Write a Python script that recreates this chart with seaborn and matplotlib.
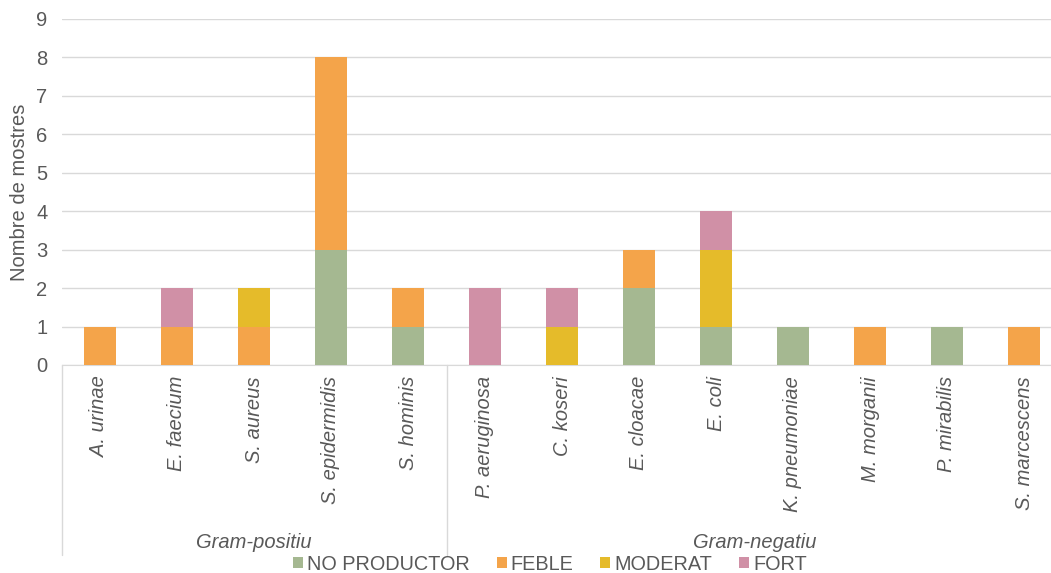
import numpy as np
import pandas as pd
import matplotlib
matplotlib.use('Agg')
import matplotlib.pyplot as plt
import seaborn as sns
from matplotlib.patches import Patch
from matplotlib.lines import Line2D

# data
species = ["A. urinae", "E. faecium", "S. aureus", "S. epidermidis", "S. hominis",
           "P. aeruginosa", "C. koseri", "E. cloacae", "E. coli", "K. pneumoniae",
           "M. morganii", "P. mirabilis", "S. marcescens"]
groups = ["Gram-positiu", "Gram-negatiu"]
group_sizes = [5, 8]

series = ["NO PRODUCTOR", "FEBLE", "MODERAT", "FORT"]
no_productor = [0, 0, 0, 3, 1, 0, 0, 2, 1, 1, 0, 1, 0]
feble = [1, 1, 1, 5, 1, 0, 0, 1, 0, 0, 1, 0, 1]
moderat = [0, 0, 1, 0, 0, 0, 1, 0, 2, 0, 0, 0, 0]
fort = [0, 1, 0, 0, 0, 2, 1, 0, 1, 0, 0, 0, 0]
colors = ["#A5B891", "#F4A44A", "#E5BB2A", "#D090A6"]

sns.set_style("white")
plt.rcParams['font.family'] = ['Liberation Sans', 'DejaVu Sans']
txt = "#595959"
grid_c = "#D9D9D9"

df = pd.DataFrame({"species": species, "NO PRODUCTOR": no_productor, "FEBLE": feble,
                   "MODERAT": moderat, "FORT": fort})
cum = df[series].cumsum(axis=1)

W, H = 1051, 573
ax_l, ax_r, ax_b, ax_t = 61.5, 1062.5, 365, 19

fig = plt.figure(figsize=(W / 100, H / 100), dpi=100)
ax = fig.add_axes([ax_l / W, 1 - ax_b / H, (ax_r - ax_l) / W, (ax_b - ax_t) / H])

# stacked bars: draw cumulative totals from top series down
for s, c in reversed(list(zip(series, colors))):
    sns.barplot(x=df["species"], y=cum[s], order=species, color=c, width=0.415,
                linewidth=0, saturation=1, ax=ax, zorder=3)

ax.set_xlim(-0.5, len(species) - 0.5)
ax.set_ylim(0, 9)
ax.set_yticks(range(10))
ax.yaxis.grid(True, color=grid_c, linewidth=1, zorder=0)
ax.set_axisbelow(True)
for sp in ["left", "right", "top"]:
    ax.spines[sp].set_visible(False)
ax.spines["bottom"].set_color(grid_c)
ax.tick_params(axis="y", length=0, labelsize=14.5, labelcolor=txt, pad=10)
ax.tick_params(axis="x", length=0, labelsize=14.5, labelcolor=txt, pad=8)
ax.set_xticks(range(len(species)))
ax.set_xticklabels(species, rotation=90, style="italic", ha="center", va="top")
ax.set_xlabel("")
ax.set_ylabel("Nombre de mostres", fontsize=14.5, color=txt, labelpad=5)

# group separators and group labels
y_top = 1 - ax_b / H
y_bot = 1 - 555 / H
x0 = ax_l / W
slot = (ax_r - ax_l) / W / len(species)
start = 0
edges = [x0]
for g, n in zip(groups, group_sizes):
    xc = x0 + (start + n / 2) * slot
    fig.text(xc, 1 - 543 / H, g, ha="center", va="center", style="italic",
             fontsize=14.5, color=txt)
    start += n
    edges.append(x0 + start * slot)
for xe in edges[:-1]:
    fig.add_artist(Line2D([xe, xe], [y_bot, y_top], color=grid_c, linewidth=1))

handles = [Patch(facecolor=c, edgecolor="none", label=s) for s, c in zip(series, colors)]
leg = fig.legend(handles=handles, loc="center", bbox_to_anchor=(550 / W, 1 - 564 / H),
                 ncol=4, frameon=False, fontsize=14.3, handlelength=0.5, handleheight=0.5,
                 handletextpad=0.2, columnspacing=1.35, borderaxespad=0, borderpad=0)
for t in leg.get_texts():
    t.set_color(txt)

fig.savefig("out.png", dpi=100)
